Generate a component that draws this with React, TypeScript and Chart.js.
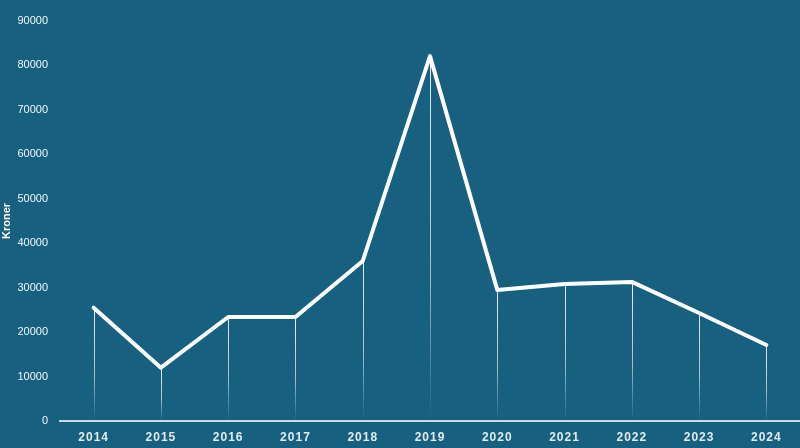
import React, { useEffect, useRef } from "react";
import { Chart, registerables } from "chart.js";

Chart.register(...registerables);

const years = ["2014", "2015", "2016", "2017", "2018", "2019", "2020", "2021", "2022", "2023", "2024"];
const kroner = [25500, 12000, 23400, 23400, 36000, 82100, 29500, 30800, 31300, 24300, 17100];
const yTicks = [0, 10000, 20000, 30000, 40000, 50000, 60000, 70000, 80000, 90000];
const yTitle = "Kroner";

const BG = "#17607f";

const dropLines = {
  id: "dropLines",
  beforeDatasetsDraw(chart: any) {
    const { ctx } = chart;
    const meta = chart.getDatasetMeta(0);
    const yScale = chart.scales.y;
    const base = yScale.getPixelForValue(0);
    ctx.save();
    meta.data.forEach((pt: any) => {
      const g = ctx.createLinearGradient(0, pt.y, 0, base);
      g.addColorStop(0, "rgba(255,255,255,0.9)");
      g.addColorStop(0.6, "rgba(255,255,255,0.6)");
      g.addColorStop(1, "rgba(255,255,255,0)");
      ctx.strokeStyle = g;
      ctx.lineWidth = 1;
      ctx.beginPath();
      ctx.moveTo(Math.round(pt.x) + 0.5, pt.y);
      ctx.lineTo(Math.round(pt.x) + 0.5, base);
      ctx.stroke();
    });
    ctx.restore();
  },
};

const spacedLabels = {
  id: "spacedLabels",
  afterLayout(chart: any) {
    const x = chart.scales.x;
    if (x && !x.__patched) {
      const orig = x.drawLabels;
      x.drawLabels = function (area: any) {
        const ctx = this.ctx;
        ctx.save();
        (ctx as any).letterSpacing = "1px";
        orig.call(this, area);
        ctx.restore();
      };
      x.__patched = true;
    }
  },
};

export default function App() {
  const ref = useRef<HTMLCanvasElement>(null);
  useEffect(() => {
    document.body.style.margin = "0";
    const chart = new Chart(ref.current as HTMLCanvasElement, {
      type: "line",
      data: {
        labels: years,
        datasets: [
          {
            data: kroner,
            borderColor: "#ffffff",
            borderWidth: 4,
            pointRadius: 0,
            pointHoverRadius: 0,
            tension: 0,
            borderJoinStyle: "round",
            borderCapStyle: "round",
            fill: false,
          },
        ],
      },
      options: {
        animation: false,
        responsive: false,
        maintainAspectRatio: false,
        layout: { padding: { top: 21, left: 0, right: 0, bottom: 0 } },
        plugins: { legend: { display: false }, tooltip: { enabled: false } },
        scales: {
          x: {
            offset: true,
            afterFit(scale: any) {
              scale.height = 27;
            },
            grid: { display: false, drawTicks: false, offset: true },
            border: { display: true, color: "#c9dbe4", width: 2 },
            ticks: {
              color: "rgba(255,255,255,0.88)",
              font: { family: "'Liberation Sans', Arial, sans-serif", size: 12, weight: "bold" },
              padding: 9,
              maxRotation: 0,
            },
          },
          y: {
            min: 0,
            max: 90000,
            afterFit(scale: any) {
              scale.width = 60;
            },
            afterBuildTicks(scale: any) {
              scale.ticks = yTicks.map((v) => ({ value: v }));
            },
            grid: { display: false, drawTicks: false },
            border: { display: false },
            ticks: {
              color: "rgba(255,255,255,0.95)",
              font: { family: "'Liberation Sans', Arial, sans-serif", size: 11 },
              padding: 12,
              callback: (v: any) => String(v),
            },
            title: {
              display: true,
              text: yTitle,
              color: "#ffffff",
              font: { family: "'Liberation Sans', Arial, sans-serif", size: 11, weight: "bold" },
              padding: 0,
            },
          },
        },
      },
      plugins: [dropLines, spacedLabels],
    });
    return () => chart.destroy();
  }, []);
  return (
    <div style={{ width: 800, height: 448, background: BG }}>
      <canvas ref={ref} width={800} height={448} style={{ display: "block" }} />
    </div>
  );
}
